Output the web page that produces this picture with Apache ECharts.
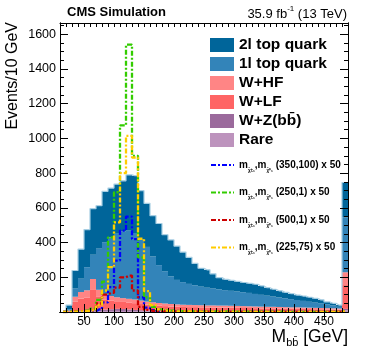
<!DOCTYPE html>
<html>
<head>
<meta charset="UTF-8">
<title>Mbb distribution</title>
<style>
    html, body { margin: 0; padding: 0; background: #fff; }
    #chart { width: 374px; height: 359px; }
</style>
<script src="https://cdn.jsdelivr.net/npm/echarts@6.0.0/dist/echarts.min.js"></script>
</head>
<body>
<div id="chart"></div>
<script>
// 10 GeV bins, lower edges; the last bin also holds the overflow
const bins = [10, 20, 30, 40, 50, 60, 70, 80, 90, 100, 110, 120, 130, 140, 150, 160,
    170, 180, 190, 200, 210, 220, 230, 240, 250, 260, 270, 280, 290, 300, 310, 320,
    330, 340, 350, 360, 370, 380, 390, 400, 410, 420, 430, 440, 450, 460, 470, 480];
const xTickLabels = [50, 100, 150, 200, 250, 300, 350, 400, 450];
const yTickLabels = [200, 400, 600, 800, 1000, 1200, 1400, 1600];

// backgrounds (stacked, bottom first)
const rare = [0, 1, 3, 4, 5, 6, 6, 6, 6, 6, 6, 6, 5, 5, 5, 5, 4, 4, 4, 4, 4, 3, 3, 3,
    3, 3, 3, 3, 3, 2, 2, 2, 2, 2, 2, 2, 2, 2, 2, 2, 2, 2, 1, 1, 1, 1, 1, 10];
const wzbb = [0, 1, 2, 3, 4, 5, 6, 8, 10, 12, 11, 9, 7, 5, 4, 3, 3, 2, 2, 2, 2, 2, 2, 1,
    1, 1, 1, 1, 1, 1, 1, 1, 1, 1, 1, 1, 1, 1, 1, 1, 1, 1, 1, 1, 1, 1, 1, 8];
const wlf = [0, 4, 54, 70, 75, 116, 75, 56, 49, 44, 41, 40, 39, 36, 33, 31, 29, 28, 26, 25, 23, 23, 23, 23,
    22, 22, 21, 21, 21, 21, 20, 20, 19, 18, 18, 18, 17, 16, 16, 16, 15, 14, 14, 14, 13, 12, 12, 137];
const whf = [0, 2, 29, 38, 41, 63, 41, 30, 27, 23, 22, 21, 21, 20, 18, 17, 16, 15, 14, 13, 13, 13, 12, 12,
    12, 12, 12, 12, 11, 11, 11, 10, 10, 10, 9, 9, 9, 9, 8, 8, 8, 8, 8, 7, 7, 7, 6, 74];
const top1l = [0, 7, 47, 77, 133, 140, 237, 300, 338, 370, 385, 393, 383, 354, 315, 264, 218, 186, 159, 141, 130, 121, 114, 107,
    102, 97, 93, 89, 86, 83, 80, 77, 72, 68, 64, 59, 55, 51, 47, 42, 38, 34, 30, 26, 22, 17, 10, 316];
const top2l = [0, 25, 104, 170, 217, 265, 247, 295, 284, 282, 291, 321, 330, 279, 251, 235, 240, 210, 210, 195, 173, 153, 126, 106,
    103, 85, 68, 62, 60, 58, 56, 55, 56, 51, 46, 42, 38, 34, 31, 28, 28, 26, 24, 21, 14, 12, 10, 201];

// signals (x 50), not stacked
const sig350_100 = [0, 0, 1, 2, 3, 5, 15, 55, 143, 296, 469, 550, 420, 85, 25, 10, 6, 4, 3, 3, 2, 2, 2, 2,
    1, 1, 1, 1, 1, 1, 1, 1, 1, 1, 1, 1, 1, 1, 1, 1, 1, 1, 1, 1, 1, 1, 1, 2];
const sig250_1 = [1, 2, 3, 5, 8, 20, 70, 175, 430, 690, 1075, 1540, 900, 315, 85, 30, 15, 10, 8, 6, 5, 5, 4, 4,
    3, 3, 3, 3, 3, 2, 2, 2, 2, 2, 2, 2, 2, 2, 1, 1, 1, 1, 1, 1, 1, 1, 1, 8];
const sig500_1 = [0, 1, 2, 3, 5, 10, 49, 100, 110, 140, 200, 210, 124, 30, 12, 6, 4, 3, 3, 2, 2, 2, 2, 2,
    2, 1, 1, 1, 1, 1, 1, 1, 1, 1, 1, 1, 1, 1, 1, 1, 1, 1, 1, 1, 1, 1, 1, 3];
const sig225_75 = [0, 1, 2, 3, 5, 10, 40, 124, 258, 516, 800, 1015, 890, 422, 120, 40, 15, 8, 5, 4, 3, 3, 3, 2,
    2, 2, 2, 2, 2, 2, 1, 1, 1, 1, 1, 1, 1, 1, 1, 1, 1, 1, 1, 1, 1, 1, 1, 4];

const FONT = 'Liberation Sans';
const xMin = 10, xMax = 490, yMax = 1665;

const backgrounds = [
    { name: 'Rare', data: rare, color: '#bd93bd' },
    { name: 'W+Z(bb\u0304)', data: wzbb, color: '#9b6a9c' },
    { name: 'W+LF', data: wlf, color: '#ff6464' },
    { name: 'W+HF', data: whf, color: '#ff8585' },
    { name: '1l top quark', data: top1l, color: '#3384b9' },
    { name: '2l top quark', data: top2l, color: '#00659a' }
];
const signals = [
    { name: 's350', mass: '(350,100) x 50', data: sig350_100, color: '#0000ff' },
    { name: 's250', mass: '(250,1) x 50', data: sig250_1, color: '#33cc00' },
    { name: 's500', mass: '(500,1) x 50', data: sig500_1, color: '#cc0000' },
    { name: 's225', mass: '(225,75) x 50', data: sig225_75, color: '#ffcc00' }
];

const totals = bins.map((b, i) => backgrounds.reduce((s, bg) => s + bg.data[i], 0));

const xMinor = [];
for (let v = 20; v < xMax; v += 10) xMinor.push(v);
const yMinor = [];
for (let v = 50; v < yMax; v += 50) yMinor.push(v);

function frameX(pos, ticks, len, labels) {
    return {
        type: 'value', min: xMin, max: xMax, position: pos, z: 5,
        axisLine: { show: true, lineStyle: { color: '#000', width: 1 } },
        axisTick: { show: true, inside: true, length: len, customValues: ticks, lineStyle: { color: '#000', width: 1 } },
        axisLabel: labels ? { customValues: labels, formatter: v => String(v), color: '#000', fontSize: 12, fontFamily: FONT, margin: 4 } : { show: false },
        splitLine: { show: false }
    };
}
function frameY(pos, ticks, len, labels) {
    return {
        type: 'value', min: 0, max: yMax, position: pos, z: 5,
        axisLine: { show: true, lineStyle: { color: '#000', width: 1 } },
        axisTick: { show: true, inside: true, length: len, customValues: ticks, lineStyle: { color: '#000', width: 1 } },
        axisLabel: labels ? { customValues: labels, formatter: v => String(v), color: '#000', fontSize: 12.5, fontFamily: FONT, margin: 4 } : { show: false },
        splitLine: { show: false }
    };
}

const chart = echarts.init(document.getElementById('chart'));

const series = backgrounds.map(bg => ({
    name: bg.name, type: 'bar', stack: 'bkg', data: bg.data,
    xAxisIndex: 0, yAxisIndex: 0,
    barCategoryGap: '0%', barGap: '0%',
    itemStyle: { color: bg.color }
}));
series.push({
    name: 'outline', type: 'line', step: 'middle', data: totals, symbol: 'none',
    xAxisIndex: 0, yAxisIndex: 0,
    lineStyle: { color: '#a6cee3', width: 1.2 }
});
signals.forEach(s => series.push({
    name: s.name, type: 'line', step: 'middle', data: s.data, symbol: 'none',
    legendIcon: 'none',
    xAxisIndex: 0, yAxisIndex: 0,
    itemStyle: { color: s.color },
    lineStyle: { color: s.color, width: 2.3, type: [5, 2, 2, 2] }
}));

const sigLabel = {};
signals.forEach(s => {
    sigLabel[s.name] = '{m|m}{s|\u03C7\u0303\u00B1\u2081}{m|,m}{s|\u03C7\u0303\u2070\u2081} {m|' + s.mass + '}';
});

chart.setOption({
    animation: false,
    grid: { left: 60, right: 26, top: 23, bottom: 47 },
    xAxis: [
        { type: 'category', data: bins, show: false, boundaryGap: true },
        frameX('bottom', xTickLabels, 8, xTickLabels),
        frameX('bottom', xMinor, 4, null),
        frameX('top', xTickLabels, 8, null),
        frameX('top', xMinor, 4, null)
    ],
    yAxis: [
        frameY('left', yTickLabels, 8, yTickLabels),
        frameY('left', yMinor, 4, null),
        frameY('right', yTickLabels, 8, null),
        frameY('right', yMinor, 4, null)
    ],
    legend: [
        {
            data: ['2l top quark', '1l top quark', 'W+HF', 'W+LF', 'W+Z(bb\u0304)', 'Rare'],
            orient: 'vertical', left: 210, top: 37, padding: 0,
            itemWidth: 24, itemHeight: 14, itemGap: 3, icon: 'rect',
            selectedMode: false,
            textStyle: { fontSize: 15.5, fontWeight: 'bold', color: '#000', fontFamily: FONT }
        },
        {
            data: signals.map(s => s.name),
            orient: 'vertical', left: 210, top: 157, padding: 0,
            itemWidth: 23, itemHeight: 16, itemGap: 11.5,
            selectedMode: false,
            itemStyle: { opacity: 0 },
            formatter: name => sigLabel[name],
            textStyle: {
                fontFamily: FONT, color: '#000', fontSize: 10, fontWeight: 'bold', lineHeight: 16,
                rich: {
                    m: { fontSize: 10, fontWeight: 'bold', lineHeight: 16, verticalAlign: 'middle', fontFamily: FONT },
                    s: { fontSize: 4.5, fontWeight: 'bold', lineHeight: 16, verticalAlign: 'bottom', fontFamily: FONT }
                }
            }
        }
    ],
    graphic: [
        {
            type: 'text', left: 67, top: 6,
            style: { text: 'CMS Simulation', font: 'bold 13px "Liberation Sans"', fill: '#000' }
        },
        {
            type: 'text', right: 27, top: 5,
            style: {
                text: '{n|35.9 fb}{p|-1}{n| (13 TeV)}', fill: '#000',
                rich: {
                    n: { fontSize: 13, fontFamily: FONT, lineHeight: 16, verticalAlign: 'bottom' },
                    p: { fontSize: 8, fontFamily: FONT, lineHeight: 16, verticalAlign: 'top' }
                }
            }
        },
        {
            type: 'text', x: 13, y: 22, rotation: Math.PI / 2,
            style: { text: 'Events/10 GeV', font: '16px "Liberation Sans"', fill: '#000', align: 'right', verticalAlign: 'middle' }
        },
        {
            type: 'text', right: 26, top: 328,
            style: {
                text: '{n|M}{s|bb\u0304}{n| [GeV]}', fill: '#000',
                rich: {
                    n: { fontSize: 17.5, fontFamily: FONT, lineHeight: 22, verticalAlign: 'middle' },
                    s: { fontSize: 11, fontFamily: FONT, lineHeight: 22, verticalAlign: 'bottom' }
                }
            }
        }
    ],
    series: series
});
</script>
</body>
</html>
